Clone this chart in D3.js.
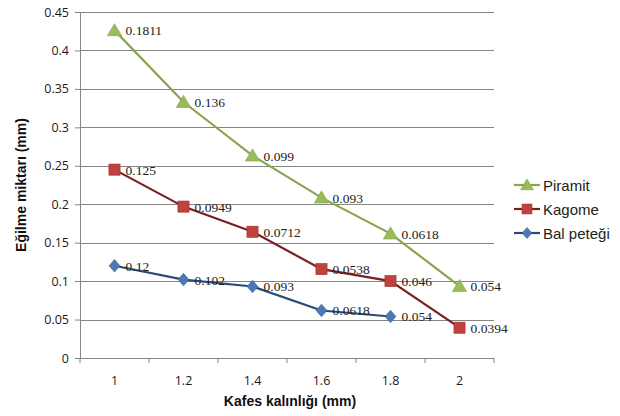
<!DOCTYPE html>
<html>
<head>
<meta charset="utf-8">
<script src="https://cdn.jsdelivr.net/npm/d3@7"></script>
<style>
  html, body { margin: 0; padding: 0; background: #fff; }
  svg { display: block; }
</style>
</head>
<body>
<svg id="chart" width="620" height="416"></svg>
<script>
// Thickness categories (mm)
const categories = ["1", "1.2", "1.4", "1.6", "1.8", "2"];
// Deflection per lattice type (stacked line chart); null = no value
const balPetegi = [0.12, 0.102, 0.093, 0.0618, 0.054, null];
const kagome    = [0.125, 0.0949, 0.0712, 0.0538, 0.046, 0.0394];
const piramit   = [0.1811, 0.136, 0.099, 0.093, 0.0618, 0.054];
const yTicks = [0, 0.05, 0.1, 0.15, 0.2, 0.25, 0.3, 0.35, 0.4, 0.45];

const seriesDefs = [
  { key: "bal", name: "Bal peteği", values: balPetegi, line: "#2a4a78", fill: "#4a7ab5", marker: "diamond" },
  { key: "kag", name: "Kagome", values: kagome, line: "#7a1f22", fill: "#c0413d", marker: "square" },
  { key: "pir", name: "Piramit", values: piramit, line: "#8aa54e", fill: "#9bbb59", marker: "triangle" }
];

const svg = d3.select("#chart");
const plotLeft = 80, plotRight = 494, plotTop = 12, plotBottom = 358;

const x = d3.scaleBand().domain(categories).range([plotLeft, plotRight]);
const y = d3.scaleLinear().domain([0, 0.45]).range([plotBottom, plotTop]);

// Stack the series in order: Bal peteği, Kagome, Piramit
const rows = categories.map((c, i) => {
  const r = { cat: c };
  seriesDefs.forEach(s => r[s.key] = s.values[i] == null ? 0 : s.values[i]);
  return r;
});
const stacked = d3.stack().keys(seriesDefs.map(s => s.key))(rows);

// Gridlines
svg.append("g").selectAll("line").data(yTicks.slice(1)).join("line")
  .attr("x1", plotLeft).attr("x2", plotRight)
  .attr("y1", d => Math.round(y(d)) + 0.5).attr("y2", d => Math.round(y(d)) + 0.5)
  .attr("stroke", "#858585").attr("stroke-width", 1);

// Y axis
const yAxis = svg.append("g").attr("transform", `translate(${plotLeft},0)`)
  .call(d3.axisLeft(y).tickValues(yTicks).tickSize(5).tickPadding(6).tickFormat(d => String(+d.toFixed(2))));
yAxis.select(".domain").attr("stroke", "#858585");
yAxis.selectAll(".tick line").attr("stroke", "#858585");
yAxis.selectAll("text").attr("font-family", "'Open Sans', 'Liberation Sans', sans-serif")
  .attr("font-size", 12.5).attr("fill", "#1a1a1a");

// X axis: ticks between categories
const xAxisG = svg.append("g").attr("transform", `translate(0,${plotBottom})`);
xAxisG.append("line").attr("x1", plotLeft).attr("x2", plotRight).attr("y1", 0.5).attr("y2", 0.5)
  .attr("stroke", "#858585");
const tickXs = categories.map(c => x(c)).concat([plotRight]);
xAxisG.selectAll("line.t").data(tickXs).join("line").attr("class", "t")
  .attr("x1", d => d).attr("x2", d => d).attr("y1", 0).attr("y2", 5)
  .attr("stroke", "#858585");
xAxisG.selectAll("text").data(categories).join("text")
  .attr("x", d => x(d) + x.bandwidth() / 2).attr("y", 27)
  .attr("text-anchor", "middle")
  .attr("font-family", "'Open Sans', 'Liberation Sans', sans-serif")
  .attr("font-size", 12.5).attr("fill", "#1a1a1a").text(d => d);

// Axis titles
svg.append("text").attr("x", 290).attr("y", 406).attr("text-anchor", "middle")
  .attr("font-family", "'Liberation Sans', Arial, sans-serif").attr("font-weight", "bold")
  .attr("font-size", 14).attr("fill", "#111").text("Kafes kalınlığı (mm)");
svg.append("text").attr("transform", "translate(26,185) rotate(-90)").attr("text-anchor", "middle")
  .attr("font-family", "'Liberation Sans', Arial, sans-serif").attr("font-weight", "bold")
  .attr("font-size", 14).attr("fill", "#111").text("Eğilme miktarı (mm)");

const cx = c => x(c) + x.bandwidth() / 2;

function drawMarker(g, type, fill, size) {
  if (type === "triangle") {
    g.append("path").attr("d", `M0,${-size * 0.75}L${size * 0.8},${size * 0.6}L${-size * 0.8},${size * 0.6}Z`)
      .attr("fill", fill).attr("stroke", d3.color(fill).darker(0.4)).attr("stroke-width", 0.6);
  } else if (type === "square") {
    g.append("rect").attr("x", -size * 0.62).attr("y", -size * 0.62)
      .attr("width", size * 1.24).attr("height", size * 1.24)
      .attr("fill", fill).attr("stroke", d3.color(fill).darker(0.6)).attr("stroke-width", 0.6);
  } else {
    g.append("path").attr("d", `M0,${-size * 0.7}L${size * 0.6},0L0,${size * 0.7}L${-size * 0.6},0Z`)
      .attr("fill", fill).attr("stroke", d3.color(fill).darker(0.6)).attr("stroke-width", 0.6);
  }
}

// Lines, markers and value labels
seriesDefs.forEach((s, si) => {
  const layer = stacked[si];
  const pts = categories.map((c, i) => ({ c, v: s.values[i], sum: layer[i][1] }))
    .filter(p => p.v != null);
  const line = d3.line().x(p => cx(p.c)).y(p => y(p.sum));
  svg.append("path").datum(pts).attr("d", line)
    .attr("fill", "none").attr("stroke", s.line).attr("stroke-width", 2.2);
  pts.forEach(p => {
    const g = svg.append("g").attr("transform", `translate(${cx(p.c)},${y(p.sum)})`);
    drawMarker(g, s.marker, s.fill, 9);
  });
  svg.append("g").selectAll("text").data(pts).join("text")
    .attr("x", p => cx(p.c) + 11).attr("y", p => y(p.sum) + 5)
    .attr("font-family", "'Liberation Serif', 'DejaVu Serif', serif")
    .attr("font-size", 13.5).attr("fill", "#222")
    .text(p => String(p.v));
});

// Legend
const legend = svg.append("g");
const legendOrder = [seriesDefs[2], seriesDefs[1], seriesDefs[0]];
legendOrder.forEach((s, i) => {
  const ly = 185 + i * 24;
  const g = legend.append("g").attr("transform", `translate(0,${ly})`);
  g.append("line").attr("x1", 514).attr("x2", 540).attr("y1", 0).attr("y2", 0)
    .attr("stroke", s.line).attr("stroke-width", 2.2);
  const m = g.append("g").attr("transform", "translate(527,0)");
  drawMarker(m, s.marker, s.fill, 8);
  g.append("text").attr("x", 543).attr("y", 5.5)
    .attr("font-family", "'Liberation Sans', Arial, sans-serif")
    .attr("font-size", 15).attr("fill", "#222").text(s.name);
});
</script>
</body>
</html>
